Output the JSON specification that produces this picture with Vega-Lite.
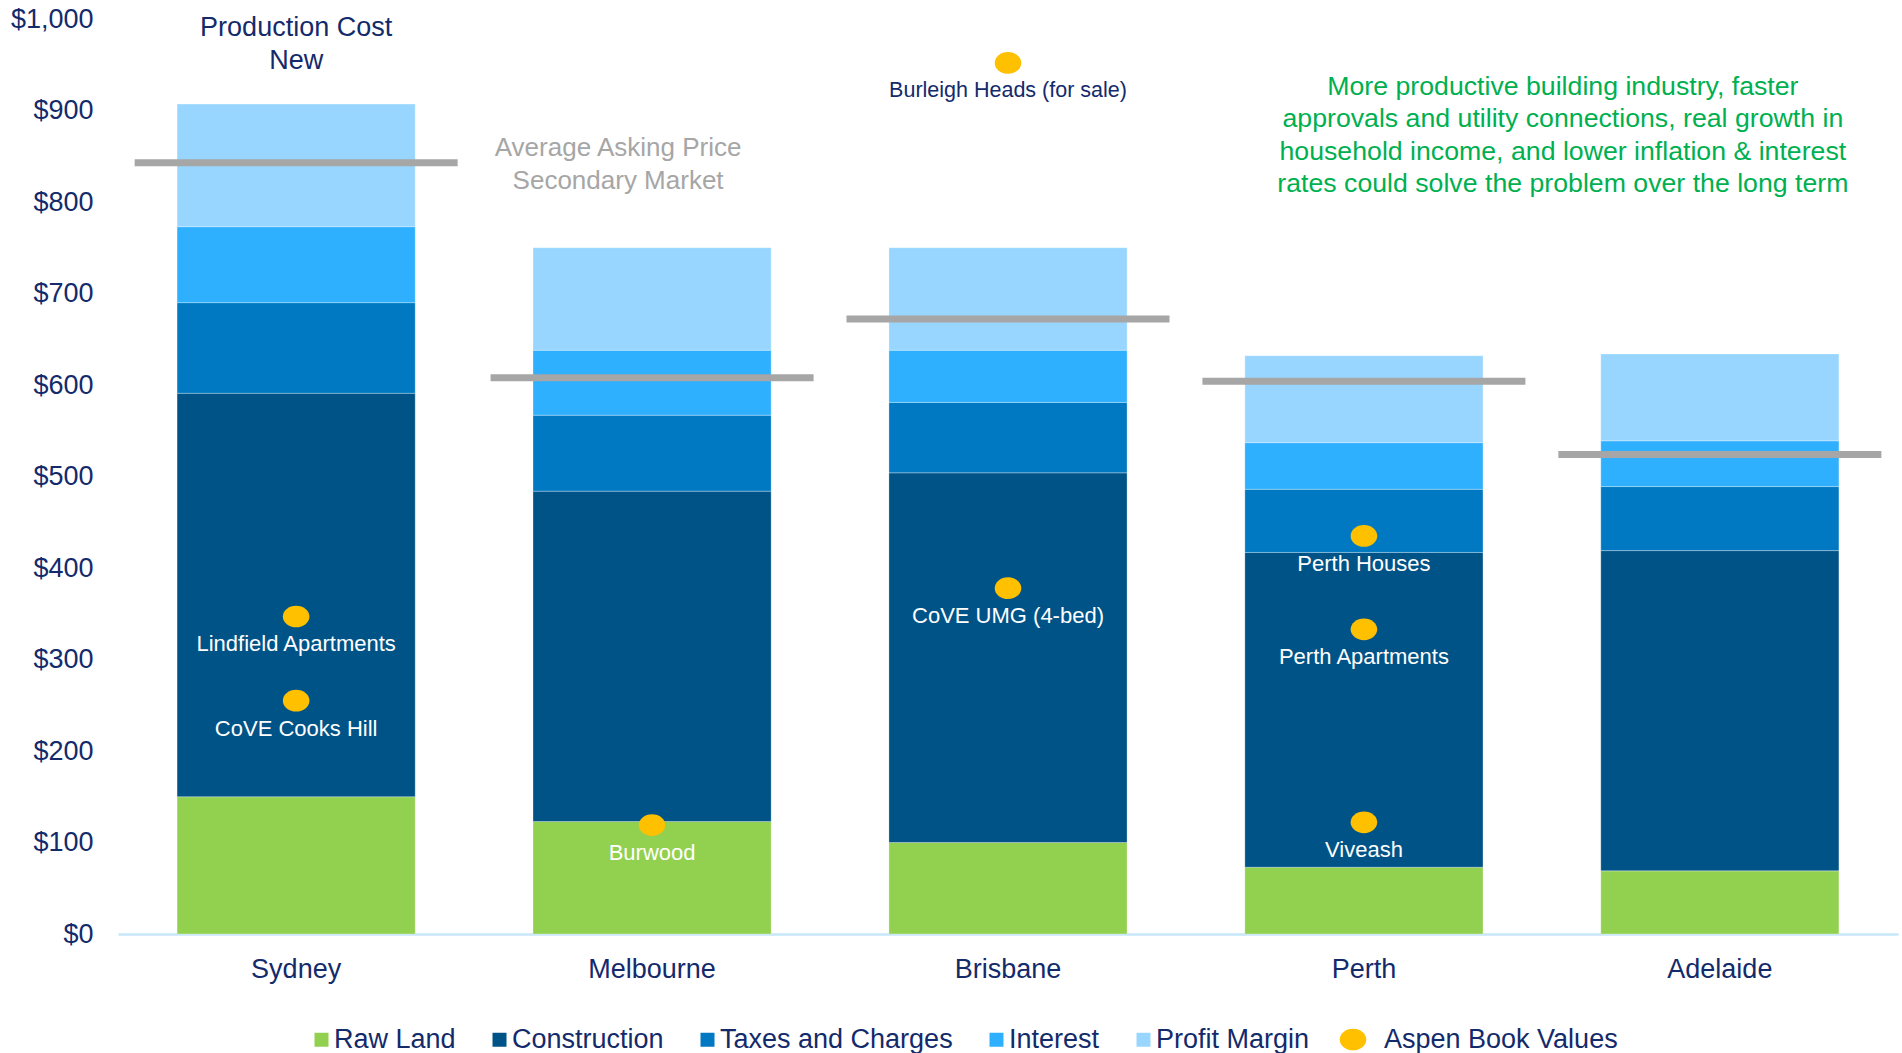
{
  "$schema": "https://vega.github.io/schema/vega-lite/v6.json",
  "width": 1780,
  "height": 915,
  "autosize": {"type": "none"},
  "padding": {"left": 118, "top": 19, "right": 4, "bottom": 119},
  "config": {
    "view": {"stroke": null},
    "font": "Liberation Sans",
    "text": {"font": "Liberation Sans"}
  },
  "datasets": {
    "bars": [
      {"city": "Sydney", "component": "Raw Land", "rank": 1, "value": 150},
      {"city": "Sydney", "component": "Construction", "rank": 2, "value": 441},
      {"city": "Sydney", "component": "Taxes and Charges", "rank": 3, "value": 99},
      {"city": "Sydney", "component": "Interest", "rank": 4, "value": 83},
      {"city": "Sydney", "component": "Profit Margin", "rank": 5, "value": 134},
      {"city": "Melbourne", "component": "Raw Land", "rank": 1, "value": 123},
      {"city": "Melbourne", "component": "Construction", "rank": 2, "value": 361},
      {"city": "Melbourne", "component": "Taxes and Charges", "rank": 3, "value": 83},
      {"city": "Melbourne", "component": "Interest", "rank": 4, "value": 71},
      {"city": "Melbourne", "component": "Profit Margin", "rank": 5, "value": 112},
      {"city": "Brisbane", "component": "Raw Land", "rank": 1, "value": 100},
      {"city": "Brisbane", "component": "Construction", "rank": 2, "value": 404},
      {"city": "Brisbane", "component": "Taxes and Charges", "rank": 3, "value": 77},
      {"city": "Brisbane", "component": "Interest", "rank": 4, "value": 57},
      {"city": "Brisbane", "component": "Profit Margin", "rank": 5, "value": 112},
      {"city": "Perth", "component": "Raw Land", "rank": 1, "value": 73},
      {"city": "Perth", "component": "Construction", "rank": 2, "value": 344},
      {"city": "Perth", "component": "Taxes and Charges", "rank": 3, "value": 69},
      {"city": "Perth", "component": "Interest", "rank": 4, "value": 51},
      {"city": "Perth", "component": "Profit Margin", "rank": 5, "value": 95},
      {"city": "Adelaide", "component": "Raw Land", "rank": 1, "value": 69},
      {"city": "Adelaide", "component": "Construction", "rank": 2, "value": 350},
      {"city": "Adelaide", "component": "Taxes and Charges", "rank": 3, "value": 70},
      {"city": "Adelaide", "component": "Interest", "rank": 4, "value": 50},
      {"city": "Adelaide", "component": "Profit Margin", "rank": 5, "value": 95}
    ],
    "asking": [
      {"city": "Sydney", "value": 843},
      {"city": "Melbourne", "value": 608},
      {"city": "Brisbane", "value": 672},
      {"city": "Perth", "value": 604},
      {"city": "Adelaide", "value": 524}
    ],
    "aspen": [
      {"city": "Sydney", "value": 347, "label": "Lindfield Apartments", "series": "Aspen Book Values"},
      {"city": "Sydney", "value": 255, "label": "CoVE Cooks Hill", "series": "Aspen Book Values"},
      {"city": "Melbourne", "value": 119, "label": "Burwood", "series": "Aspen Book Values"},
      {"city": "Brisbane", "value": 952, "label": "Burleigh Heads (for sale)", "series": "Aspen Book Values"},
      {"city": "Brisbane", "value": 378, "label": "CoVE UMG (4-bed)", "series": "Aspen Book Values"},
      {"city": "Perth", "value": 435, "label": "Perth Houses", "series": "Aspen Book Values"},
      {"city": "Perth", "value": 333, "label": "Perth Apartments", "series": "Aspen Book Values"},
      {"city": "Perth", "value": 122, "label": "Viveash", "series": "Aspen Book Values"}
    ]
  },
  "encoding": {
    "x": {
      "field": "city",
      "type": "nominal",
      "sort": ["Sydney", "Melbourne", "Brisbane", "Perth", "Adelaide"],
      "scale": {"paddingInner": 0.331, "paddingOuter": 0.166},
      "axis": {
        "title": null,
        "labelAngle": 0,
        "labelFontSize": 27,
        "labelColor": "#132a6b",
        "labelPadding": 22,
        "ticks": false,
        "domainColor": "#c6e6fa",
        "domainWidth": 2.5
      }
    },
    "y": {
      "field": "value",
      "type": "quantitative",
      "scale": {"domain": [0, 1000], "nice": false},
      "axis": {
        "title": null,
        "values": [0, 100, 200, 300, 400, 500, 600, 700, 800, 900, 1000],
        "format": "$,.0f",
        "labelFontSize": 27,
        "labelColor": "#132a6b",
        "labelPadding": 25,
        "ticks": false,
        "domain": false,
        "grid": false
      }
    }
  },
  "layer": [
    {
      "data": {"name": "bars"},
      "mark": {"type": "bar", "opacity": 1, "stroke": "#ffffff", "strokeWidth": 0.8, "strokeOpacity": 0.35},
      "encoding": {
        "order": {"field": "rank", "type": "quantitative", "sort": "ascending"},
        "color": {
          "field": "component",
          "type": "nominal",
          "sort": ["Raw Land", "Construction", "Taxes and Charges", "Interest", "Profit Margin"],
          "scale": {
            "domain": ["Raw Land", "Construction", "Taxes and Charges", "Interest", "Profit Margin"],
            "range": ["#92d050", "#005387", "#0079c2", "#2eb0ff", "#99d6ff"]
          },
          "legend": {
            "orient": "none",
            "legendX": 190,
            "legendY": 1007,
            "direction": "horizontal",
            "title": null,
            "symbolType": "square",
            "symbolSize": 196,
            "symbolStrokeWidth": 0,
            "labelFontSize": 27,
            "labelLimit": 400,
            "labelColor": "#132a6b",
            "labelOffset": -1,
            "columnPadding": 30
          }
        }
      }
    },
    {
      "data": {"name": "asking"},
      "mark": {"type": "tick", "color": "#a6a6a6", "opacity": 1, "size": 323, "thickness": 7}
    },
    {
      "data": {"name": "aspen"},
      "mark": {"type": "point", "filled": true, "color": "#ffc000", "opacity": 1, "size": 196, "strokeWidth": 0},
      "encoding": {
        "shape": {
          "field": "series",
          "type": "nominal",
          "scale": {"range": ["M-1.9,0A1.9,1.55,0,1,0,1.9,0A1.9,1.55,0,1,0,-1.9,0Z"]},
          "legend": {
            "orient": "none",
            "legendX": 1221.5,
            "legendY": 1007,
            "title": null,
            "symbolSize": 196,
            "symbolFillColor": "#ffc000",
            "symbolStrokeWidth": 0,
            "labelFontSize": 27,
            "labelLimit": 400,
            "labelColor": "#132a6b",
            "labelOffset": 17.5
          }
        }
      }
    },
    {
      "data": {"name": "aspen"},
      "transform": [{"filter": "datum.value < 900"}],
      "mark": {"type": "text", "color": "#ffffff", "fontSize": 22, "dy": 28, "align": "center", "baseline": "middle"},
      "encoding": {"text": {"field": "label"}}
    },
    {
      "data": {"name": "aspen"},
      "transform": [{"filter": "datum.value >= 900"}],
      "mark": {"type": "text", "color": "#132a6b", "fontSize": 21.5, "dy": 28, "align": "center", "baseline": "middle"},
      "encoding": {"text": {"field": "label"}}
    },
    {
      "data": {"values": [{"city": "Sydney", "value": 990, "note": "Production Cost\nNew"}]},
      "mark": {"type": "text", "color": "#132a6b", "fontSize": 27, "lineHeight": 33, "lineBreak": "\n", "align": "center", "baseline": "middle"},
      "encoding": {"text": {"field": "note"}}
    },
    {
      "data": {"values": [{"city": "Melbourne", "value": 859, "note": "Average Asking Price\nSecondary Market"}]},
      "mark": {"type": "text", "color": "#a6a6a6", "fontSize": 26, "lineHeight": 33, "lineBreak": "\n", "align": "center", "baseline": "middle", "dx": -34},
      "encoding": {"text": {"field": "note"}}
    },
    {
      "data": {"values": [{"city": "Adelaide", "value": 926, "note": "More productive building industry, faster\napprovals and utility connections, real growth in\nhousehold income, and lower inflation & interest\nrates could solve the problem over the long term"}]},
      "mark": {"type": "text", "color": "#00b050", "fontSize": 26.7, "lineHeight": 32.5, "lineBreak": "\n", "align": "center", "baseline": "middle", "dx": -157},
      "encoding": {"text": {"field": "note"}}
    }
  ]
}
